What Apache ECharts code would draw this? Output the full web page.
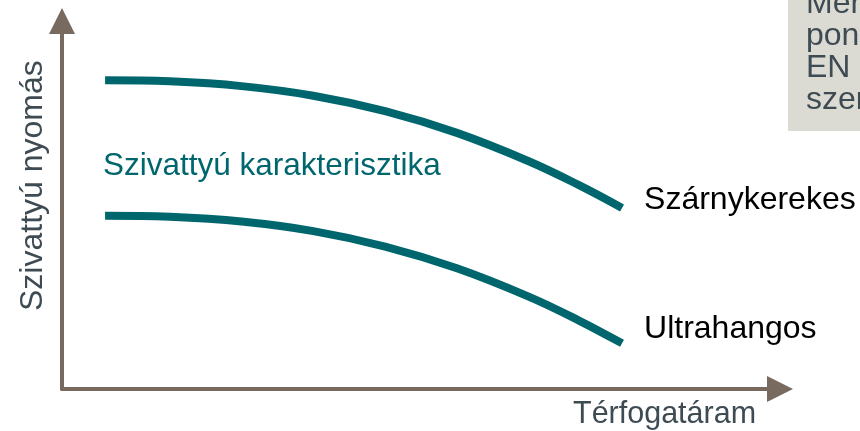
<!DOCTYPE html>
<html>
<head>
<meta charset="utf-8">
<script src="https://cdn.jsdelivr.net/npm/echarts@6/dist/echarts.min.js"></script>
<style>
  html, body { margin: 0; padding: 0; background: #ffffff; }
  #chart { width: 860px; height: 431px; }
</style>
</head>
<body>
<div id="chart"></div>
<script>
// Flow rate positions (relative units, 0-100 along the horizontal axis)
const flow = [6, 15, 25, 35, 45, 55, 65, 72, 78];
// Pump pressure for the two meter types (relative units, 0-100)
const vaneWheel = [83.9, 83.6, 82.3, 79.7, 75.5, 69.6, 61.9, 55.4, 49.2];
const ultrasonic = [47.1, 46.8, 45.5, 42.9, 38.7, 32.8, 25.1, 18.6, 12.4];
const seriesNames = ['Szárnykerekes', 'Ultrahangos'];
const axisTitles = { x: 'Térfogatáram', y: 'Szivattyú nyomás' };
const curveTitle = 'Szivattyú karakterisztika';
const noteLines = ['Mérési', 'pontosság', 'EN', 'szerint'];

const FONT = "'Liberation Sans', Arial, sans-serif";
const TEAL = '#00666e';
const AXIS = '#786a5e';
const GREY_TEXT = '#3e4b53';

const pairs = (ys) => flow.map((x, i) => [x, ys[i]]);

const axisCommon = {
  type: 'value', min: 0, max: 100,
  axisLine: {
    show: true,
    symbol: ['none', 'triangle'],
    symbolSize: [26, 26],
    lineStyle: { color: AXIS, width: 4 }
  },
  axisTick: { show: false },
  axisLabel: { show: false },
  splitLine: { show: false }
};

const lineSeries = (name, ys, offsetY) => ({
  name, type: 'line', data: pairs(ys),
  smooth: 0.4, symbol: 'none',
  lineStyle: { color: TEAL, width: 8, cap: 'butt' },
  endLabel: {
    show: true, formatter: '{a}', distance: 22,
    offset: [0, offsetY],
    color: '#000000', fontSize: 32, fontFamily: FONT
  },
  silent: true
});

const chart = echarts.init(document.getElementById('chart'));
chart.setOption({
  animation: false,
  grid: { left: 62, right: 80, top: 21, bottom: 42 },
  xAxis: axisCommon,
  yAxis: axisCommon,
  series: [
    lineSeries(seriesNames[0], vaneWheel, -8),
    lineSeries(seriesNames[1], ultrasonic, -14)
  ],
  graphic: [
    {
      type: 'rect', left: 788, top: 0, silent: true,
      shape: { width: 80, height: 131 },
      style: { fill: '#dcdbd3' }
    },
    {
      type: 'text', left: 806, top: -12, silent: true,
      style: {
        text: noteLines.join('\n'), fill: GREY_TEXT,
        font: '32px ' + FONT, lineHeight: 32
      }
    },
    {
      type: 'text', left: 103, top: 150, silent: true,
      style: { text: curveTitle, fill: TEAL, font: '31.5px ' + FONT }
    },
    {
      type: 'text', left: 573, top: 399, silent: true,
      style: { text: axisTitles.x, fill: GREY_TEXT, font: '30.5px ' + FONT }
    },
    {
      type: 'text', silent: true,
      x: 17, y: 311, rotation: Math.PI / 2,
      style: { text: axisTitles.y, fill: GREY_TEXT, font: '32px ' + FONT }
    }
  ]
});
</script>
</body>
</html>
